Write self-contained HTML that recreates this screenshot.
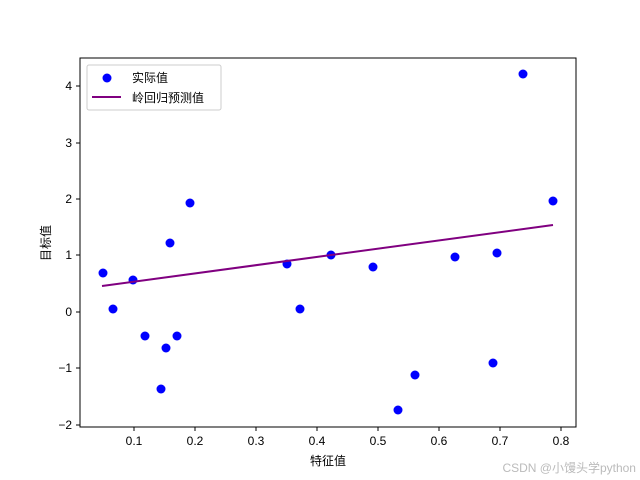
<!DOCTYPE html>
<html><head><meta charset="utf-8"><style>body{margin:0;background:#fff}svg{display:block}text{font-family:"Liberation Sans","Noto Sans CJK SC",sans-serif;font-size:12px;fill:#000}</style></head><body>
<svg width="640" height="480" xmlns="http://www.w3.org/2000/svg">
<rect width="640" height="480" fill="#fff"/>
<rect x="80" y="58" width="496" height="369" fill="none" stroke="#000" stroke-width="1"/>
<g stroke="#000">
<line x1="134" y1="427" x2="134" y2="431"/><line x1="195" y1="427" x2="195" y2="431"/><line x1="256" y1="427" x2="256" y2="431"/><line x1="317" y1="427" x2="317" y2="431"/><line x1="378" y1="427" x2="378" y2="431"/><line x1="439" y1="427" x2="439" y2="431"/><line x1="500" y1="427" x2="500" y2="431"/><line x1="561" y1="427" x2="561" y2="431"/>
<line x1="76" y1="86" x2="80" y2="86"/><line x1="76" y1="143" x2="80" y2="143"/><line x1="76" y1="199" x2="80" y2="199"/><line x1="76" y1="255" x2="80" y2="255"/><line x1="76" y1="312" x2="80" y2="312"/><line x1="76" y1="368" x2="80" y2="368"/><line x1="76" y1="425" x2="80" y2="425"/>
</g>
<g text-anchor="middle" font-size="11">
<text x="134" y="445">0.1</text><text x="195" y="445">0.2</text><text x="256" y="445">0.3</text><text x="317" y="445">0.4</text><text x="378" y="445">0.5</text><text x="439" y="445">0.6</text><text x="500" y="445">0.7</text><text x="561" y="445">0.8</text>
</g>
<g text-anchor="end">
<text x="72" y="90">4</text><text x="72" y="147">3</text><text x="72" y="203">2</text><text x="72" y="259">1</text><text x="72" y="316">0</text><text x="72" y="372">−1</text><text x="72" y="429">−2</text>
</g>
<text x="328" y="465" text-anchor="middle">特征值</text>
<text transform="translate(50,243) rotate(-90)" text-anchor="middle">目标值</text>
<g fill="#0000ff">
<circle cx="103" cy="273" r="4.5"/><circle cx="113" cy="309" r="4.5"/><circle cx="133" cy="280" r="4.5"/><circle cx="145" cy="336" r="4.5"/><circle cx="161" cy="389" r="4.5"/><circle cx="166" cy="348" r="4.5"/><circle cx="170" cy="243" r="4.5"/><circle cx="177" cy="336" r="4.5"/><circle cx="190" cy="203" r="4.5"/><circle cx="287" cy="264" r="4.5"/><circle cx="300" cy="309" r="4.5"/><circle cx="331" cy="255" r="4.5"/><circle cx="373" cy="267" r="4.5"/><circle cx="398" cy="410" r="4.5"/><circle cx="415" cy="375" r="4.5"/><circle cx="455" cy="257" r="4.5"/><circle cx="493" cy="363" r="4.5"/><circle cx="497" cy="253" r="4.5"/><circle cx="523" cy="74" r="4.5"/><circle cx="553" cy="201" r="4.5"/>
</g>
<line x1="102" y1="286" x2="553" y2="225" stroke="#800080" stroke-width="2"/>
<rect x="87" y="65" width="134" height="45" rx="2" fill="#fff" fill-opacity="0.8" stroke="#ccc"/>
<circle cx="107" cy="78" r="4.5" fill="#0000ff"/>
<text x="132" y="82">实际值</text>
<line x1="92" y1="97" x2="121" y2="97" stroke="#800080" stroke-width="2"/>
<text x="132" y="102">岭回归预测值</text>
<text x="636" y="472" text-anchor="end" font-size="11" style="fill:#bbb">CSDN @小馒头学python</text>
</svg>
</body></html>
